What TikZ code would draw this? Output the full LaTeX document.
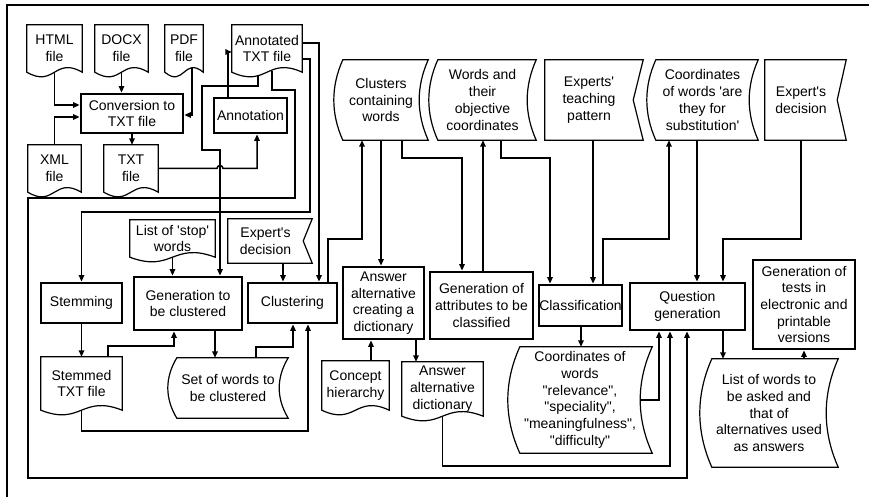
\documentclass[tikz,border=0pt]{standalone}
\usepackage{fontspec}
\setmainfont{Liberation Sans}
\usetikzlibrary{arrows.meta,calc}
\tikzset{
  base/.style={inner sep=0pt, align=center, font=\fontsize{14pt}{16.7pt}\selectfont},
  procbox/.style={base, draw, line width=2.8pt},
  plain/.style={base, draw=none},
  shp/.style={line width=1.2pt, line join=miter},
  conn/.style={line width=1.5pt, -{Triangle[length=6.5pt,width=5.5pt]}},
  frameline/.style={line width=2.4pt},
}
\newcommand\docoutline[1]{%
  \draw[shp] let \p1=(#1.south west), \p2=(#1.north east) in
    (\x1,\y1) -- (\x1,\y2) -- (\x2,\y2) -- (\x2,\y1)
    .. controls ({(\x1+\x2)/2},\y1+16pt) and ({(\x1+\x2)/2},\y1-16pt) .. (\x1,\y1) -- cycle;}
\newcommand\storedoutline[2]{%
  \draw[shp] let \p1=(#1.south west), \p2=(#1.north east) in
    (\x1+#2pt,\y2) -- (\x2,\y2)
    .. controls (\x2-#2pt*4/3,{\y2-(\y2-\y1)/3}) and (\x2-#2pt*4/3,{\y1+(\y2-\y1)/3}) .. (\x2,\y1)
    -- (\x1+#2pt,\y1)
    .. controls (\x1+#2pt-#2pt*4/3,{\y1+(\y2-\y1)/3}) and (\x1+#2pt-#2pt*4/3,{\y2-(\y2-\y1)/3}) .. (\x1+#2pt,\y2)
    -- cycle;}
\newcommand\notchoutline[2]{%
  \draw[shp] (#1.north west) -- ([xshift=#2pt]#1.north east) -- (#1.east)
    -- ([xshift=#2pt]#1.south east) -- (#1.south west) -- cycle;}
\newcommand\sq{\textquotesingle}
\newcommand\dq{\textquotedbl}
\begin{document}
\begin{tikzpicture}[x=1pt,y=-1pt]
\useasboundingbox (0,0) rectangle (869,497);
\draw[frameline] (7,497) -- (7,5) -- (869,5);

% documents
\node[plain, minimum width=55pt, minimum height=47pt] (html) at (54.5,48.5) {HTML\\file};
\node[plain, minimum width=53pt, minimum height=47pt] (docx) at (121.5,48.5) {DOCX\\file};
\node[plain, minimum width=38pt, minimum height=47pt] (pdf) at (184,48.5) {PDF\\file};
\node[plain, minimum width=70pt, minimum height=47pt] (anntxt) at (267,48.5) {Annotated\\TXT file};
\node[plain, minimum width=53pt, minimum height=47pt] (xml) at (54.5,168.5) {XML\\file};
\node[plain, minimum width=54pt, minimum height=47pt] (txt) at (131,168.5) {TXT\\file};
\node[plain, minimum width=85pt, minimum height=37pt] (liststop) at (172.5,238.5) {List of \sq stop\sq\\words};
\node[plain, minimum width=81pt, minimum height=53pt] (stemmed) at (81.5,383.5) {Stemmed\\TXT file};
\node[plain, minimum width=67pt, minimum height=49pt] (concept) at (355.5,385.5) {Concept\\hierarchy};
\node[plain, minimum width=81pt, minimum height=54pt] (aadict) at (442.5,389) {Answer\\alternative\\dictionary};
\docoutline{html}
\docoutline{docx}
\docoutline{pdf}
\docoutline{anntxt}
\docoutline{xml}
\docoutline{txt}
\docoutline{liststop}
\docoutline{stemmed}
\docoutline{concept}
\docoutline{aadict}

% notched inputs
\node[plain, minimum width=88pt, minimum height=80pt] (experts) at (589,100) {Experts\sq\\teaching\\pattern};
\node[plain, minimum width=72pt, minimum height=80pt] (expdec2) at (801,100) {Expert\sq s\\decision};
\node[plain, minimum width=75pt, minimum height=44pt] (expdec1) at (265.5,241) {Expert\sq s\\decision};
\notchoutline{experts}{10}
\notchoutline{expdec2}{9}
\notchoutline{expdec1}{9}

% stored data
\node[plain, minimum width=94pt, minimum height=80pt] (clusters) at (381,100) {Clusters\\containing\\words};
\node[plain, minimum width=107pt, minimum height=80pt] (words) at (482.5,100) {Words and\\their\\objective\\coordinates};
\node[plain, minimum width=111pt, minimum height=80pt] (coordsub) at (702.5,100) {Coordinates\\of words \sq are\\they for\\substitution\sq};
\node[plain, minimum width=120pt, minimum height=60pt] (setw) at (228,388) {Set of words to\\be clustered};
\node[plain, minimum width=144pt, minimum height=106pt] (coordrel) at (580,400) {Coordinates of\\words\\\dq relevance\dq,\\\dq speciality\dq,\\\dq meaningfulness\dq,\\\dq difficulty\dq};
\node[plain, minimum width=138pt, minimum height=108pt] (listw) at (769,413) {List of words to\\be asked and\\that of\\alternatives used\\as answers};
\storedoutline{clusters}{9}
\storedoutline{words}{9}
\storedoutline{coordsub}{9}
\storedoutline{setw}{9}
\storedoutline{coordrel}{12}
\storedoutline{listw}{12}

% processes
\node[procbox, minimum width=102pt, minimum height=39pt] (conv) at (132,113.5) {Conversion to\\TXT file};
\node[procbox, minimum width=73pt, minimum height=35pt] (annot) at (250.5,115.5) {Annotation};
\node[procbox, minimum width=81pt, minimum height=40pt] (stem) at (81.5,303) {Stemming};
\node[procbox, minimum width=108pt, minimum height=53pt] (gentbc) at (188,303.5) {Generation to\\be clustered};
\node[procbox, minimum width=89pt, minimum height=40pt] (clust) at (292.5,303) {Clustering};
\node[procbox, minimum width=81pt, minimum height=72pt] (aacd) at (383.5,303) {Answer\\alternative\\creating a\\dictionary};
\node[procbox, minimum width=103pt, minimum height=67pt] (genattr) at (481.5,305.5) {Generation of\\attributes to be\\classified};
\node[procbox, minimum width=83pt, minimum height=41pt] (classif) at (580.5,305.5) {Classification};
\node[procbox, minimum width=115pt, minimum height=47pt] (qgen) at (687.5,306.5) {Question\\generation};
\node[procbox, minimum width=102pt, minimum height=89pt] (gentests) at (804,304.5) {Generation of\\tests in\\electronic and\\printable\\versions};

% connectors
\draw[conn] (html.south) |- (conv.west |- 0,105);
\draw[conn] (xml.north) |- (conv.west |- 0,117);
\draw[conn] (docx.south) -- (docx.south |- conv.north);
\draw[conn] ([shift={(8,-4)}]pdf.south) |- (conv.east |- 0,115);
\draw[conn] (conv.south) -- (conv.south |- txt.north);
\draw[conn] (txt.east) -- (217,168.5) arc[start angle=180,end angle=0,radius=3pt] -- (257,168.5) -- (annot.south -| 257,0);
\draw[conn] (annot.north -| 228,0) |- (anntxt.west |- 0,52);
\draw[conn] (anntxt.east |- 0,43) -| (clust.north -| 319,0);
\draw[conn] (anntxt.east |- 0,59) -| (310,212) -| (stem.north);
\draw[conn] ([shift={(-9,3)}]anntxt.south) |- (202,86) |- (220,150) -- (gentbc.north -| 220,0);
\draw[conn] ([shift={(5,-1.5)}]anntxt.south) |- (295,90) |- (28,198) |- (687,478) -- (qgen.south -| 687,0);
\draw[conn] (liststop.south) -- (gentbc.north -| liststop.south);
\draw[conn] (stem.south) -- (stemmed.north);
\draw[conn] (stemmed.north -| 108,0) |- (174,346) -- (gentbc.south -| 174,0);
\draw[conn] (gentbc.south -| 215,0) -- (setw.north -| 215,0);
\draw[conn] (setw.north -| 256,0) |- (293,347) -- (clust.south -| 293,0);
\draw[conn] (stemmed.south) |- (308,431) -- (clust.south -| 308,0);
\draw[conn] (expdec1.south -| 283,0) -- (clust.north -| 283,0);
\draw[conn] (clust.north -| 328,0) |- (362,239) -- (clusters.south -| 362,0);
\draw[conn] (clusters.south -| 381,0) -- (aacd.north -| 381,0);
\draw[conn] (clusters.south -| 402,0) |- (462,158) -- (genattr.north -| 462,0);
\draw[conn] (genattr.north -| 483,0) -- (words.south -| 483,0);
\draw[conn] (words.south -| 501,0) |- (550,158) -- (classif.north -| 550,0);
\draw[conn] (experts.south -| 593,0) -- (classif.north -| 593,0);
\draw[conn] (classif.north -| 603,0) |- (669,239) -- (coordsub.south -| 669,0);
\draw[conn] (coordsub.south -| 697,0) -- (qgen.north -| 697,0);
\draw[conn] (expdec2.south) |- (723,239) -- (qgen.north -| 723,0);
\draw[conn] (qgen.south -| 723,0) -- (listw.north -| 723,0);
\draw[conn] (listw.north -| 804,0) -- (gentests.south -| 804,0);
\draw[conn] (classif.south -| 581,0) -- (coordrel.north -| 581,0);
\draw[conn] ([xshift=-12pt]coordrel.east) -| (qgen.south -| 659,0);
\draw[conn] (concept.north -| 371,0) -- (aacd.south -| 371,0);
\draw[conn] (aacd.south -| 416,0) -- (aadict.north -| 416,0);
\draw[conn] (aadict.south) |- (670,466) -- (qgen.south -| 670,0);
\end{tikzpicture}
\end{document}
